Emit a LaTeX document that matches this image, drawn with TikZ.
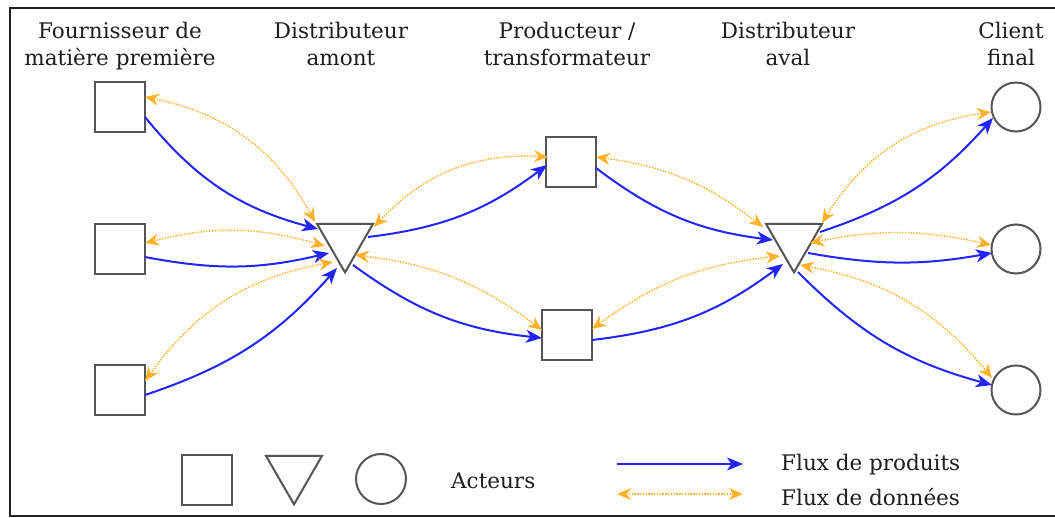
\documentclass[tikz,border=0pt]{standalone}
\usepackage{fontspec}
\setmainfont{DejaVu Serif}
\usetikzlibrary{arrows.meta,shapes.geometric,calc}

\definecolor{shapegray}{HTML}{555555}
\definecolor{framegray}{HTML}{222222}
\definecolor{flowblue}{HTML}{2424FF}
\definecolor{dataorange}{HTML}{FFB12A}
\definecolor{textgray}{HTML}{1E1E1E}

\begin{document}
\begin{tikzpicture}[x=1pt,y=-1pt,
  actor/.style={draw=shapegray,line width=2pt,inner sep=0pt,outer sep=0pt},
  squarebox/.style={actor,rectangle,minimum width=50pt,minimum height=50pt},
  roundbox/.style={actor,circle,minimum size=49pt},
  tribox/.style={actor,regular polygon,regular polygon sides=3,shape border rotate=180,minimum size=64.7pt},
  goods/.style={draw=flowblue,line width=2pt,-{Stealth[length=16pt,width=13pt,inset=4.5pt]}},
  info/.style={draw=dataorange,line width=1.4pt,dash pattern=on 1.5pt off 1.3pt,
    {Stealth[length=14pt,width=12pt,inset=4.5pt]}-{Stealth[length=14pt,width=12pt,inset=4.5pt]}},
  heading/.style={text=textgray,font=\fontsize{21.5}{27}\selectfont,align=center,anchor=north,inner sep=0pt},
  legendtext/.style={text=textgray,font=\fontsize{21.5}{27}\selectfont,anchor=base west,inner sep=0pt}
]
\useasboundingbox (0,0) rectangle (1055,518);
\fill[white] (0,0) rectangle (1055,518);
\draw[line width=2.5pt,framegray] (10,8) rectangle (1075,516);

% column headings
\node[heading] (h1) at (120,21.5) {Fournisseur de\\matière première};
\node[heading] (h2) at (341,21.5) {Distributeur\\amont};
\node[heading] (h3) at (567,21.5) {Producteur /\\transformateur};
\node[heading] (h4) at (788,21.5) {Distributeur\\aval};
\node[heading] (h5) at (1011,21.5) {Client\\final};

% actors
\node[squarebox] (s1) at (120,107) {};
\node[squarebox] (s2) at (120,249) {};
\node[squarebox] (s3) at (120,390) {};
\node[tribox] (d1) at (345,240) {};
\node[squarebox] (p1) at (571,162) {};
\node[squarebox] (p2) at (567,335) {};
\node[tribox] (d2) at (794,240) {};
\node[roundbox] (c1) at (1016,107) {};
\node[roundbox] (c2) at (1016,249) {};
\node[roundbox] (c3) at (1016,390) {};

% suppliers -> upstream distributor
\draw[goods] ($(s1.center)+(25,10)$) to[bend right=18] ($(d1.center)+(-27,-11)$);
\draw[info]  ($(s1.center)+(25,-10)$) to[bend left=25] ($(d1.center)+(-30,-18)$);
\draw[goods] ($(s2.center)+(25,8)$) to[bend right=12] ($(d1.center)+(-16,13)$);
\draw[info]  ($(s2.center)+(25,-6)$) to[bend left=15] ($(d1.center)+(-20,6)$);
\draw[goods] ($(s3.center)+(25,5)$) to[bend right=15] ($(d1.center)+(-8,28)$);
\draw[info]  ($(s3.center)+(25,-9)$) to[bend left=22] ($(d1.center)+(-12,22)$);

% upstream distributor -> producers
\draw[goods] ($(d1.center)+(23,-3)$) to[bend right=15] ($(p1.center)+(-24,3)$);
\draw[info]  ($(d1.center)+(29,-13)$) to[bend left=25] ($(p1.center)+(-23,-5)$);
\draw[goods] ($(d1.center)+(8,25)$) to[bend right=15] ($(p2.center)+(-25,3)$);
\draw[info]  ($(d1.center)+(10,15)$) to[bend left=15] ($(p2.center)+(-25,-5)$);

% producers -> downstream distributor
\draw[goods] ($(p1.center)+(25,6)$) to[bend right=15] ($(d2.center)+(-21,0)$);
\draw[info]  ($(p1.center)+(25,-5)$) to[bend left=15] ($(d2.center)+(-31,-13)$);
\draw[goods] ($(p2.center)+(25,5)$) to[bend right=15] ($(d2.center)+(-11,24)$);
\draw[info]  ($(p2.center)+(25,-6)$) to[bend left=15] ($(d2.center)+(-14,16)$);

% downstream distributor -> end customers
\draw[goods] ($(d2.center)+(26,-8)$) to[bend right=15] ($(c1.center)+(-23,11)$);
\draw[info]  ($(d2.center)+(28,-17)$) to[bend left=25] ($(c1.center)+(-25,5)$);
\draw[goods] ($(d2.center)+(14,13)$) to[bend right=10] ($(c2.center)+(-24,4)$);
\draw[info]  ($(d2.center)+(16,3)$) to[bend left=12] ($(c2.center)+(-25,-4)$);
\draw[goods] ($(d2.center)+(4,32)$) to[bend right=15] ($(c3.center)+(-24,-5)$);
\draw[info]  ($(d2.center)+(6,25)$) to[bend left=20] ($(c3.center)+(-24,-12)$);

% legend
\node[squarebox] (ls) at (207,480) {};
\node[tribox] (lt) at (294,472) {};
\node[roundbox,minimum size=50pt] (lc) at (381,479) {};
\node[legendtext] (la) at (451,488) {Acteurs};
\coordinate (g1) at (617,464);
\coordinate (g2) at (743,464);
\coordinate (i1) at (617,494);
\coordinate (i2) at (743,494);
\draw[goods] (g1) -- (g2);
\draw[info] (i1) -- (i2);
\node[legendtext] (lg) at (781,471) {Flux de produits};
\node[legendtext] (li) at (781,505) {Flux de données};
\end{tikzpicture}
\end{document}
